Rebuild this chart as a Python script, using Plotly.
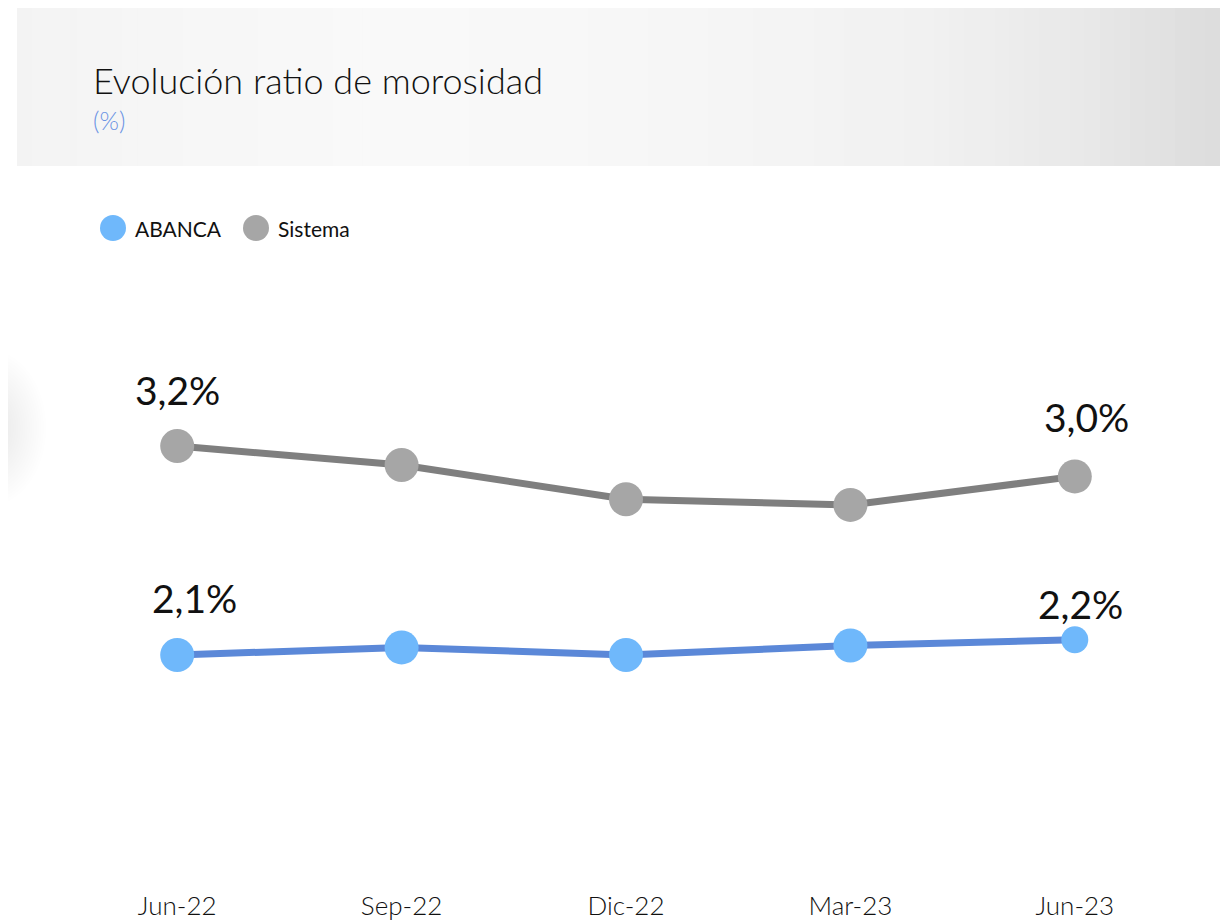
import plotly.graph_objects as go

categories = ["Jun-22", "Sep-22", "Dic-22", "Mar-23", "Jun-23"]
sistema = [3.20, 3.10, 2.92, 2.89, 3.04]
abanca = [2.10, 2.14, 2.10, 2.15, 2.18]
abanca_sizes = [34, 34, 34, 34, 27]

# page body offset (default 8px margin)
OFF = 8
SCR_W, SCR_H = 1230, 920
W_PX, H_PX = SCR_W - OFF, SCR_H - OFF
PL, PR, PT, PB = 65, 1187, 270, 888  # plot area in screen pixels
L, R, T, B = PL - OFF, SCR_W - PR, PT - OFF, SCR_H - PB
PW, PH = PR - PL, PB - PT
Y0 = 2.10 - (PB - 655) / 190.0
Y1 = 2.10 + (655 - PT) / 190.0


def px(x):
    return (x - PL) / PW


def py(y):
    return (PB - y) / PH


fig = go.Figure()
fig.add_trace(go.Scatter(
    x=categories, y=sistema, name="Sistema", mode="lines+markers",
    line=dict(color="#7f7f7f", width=7),
    marker=dict(color="#a6a6a6", size=34, opacity=1, line=dict(width=0)), showlegend=False,
))
fig.add_trace(go.Scatter(
    x=categories, y=abanca, name="ABANCA", mode="lines+markers",
    line=dict(color="#5b88d8", width=7),
    marker=dict(color="#6fb8fb", size=abanca_sizes, opacity=1, line=dict(width=0)),
    showlegend=False,
))


def fmt(v):
    return f"{v:.1f}".replace(".", ",") + "%"


label_font = dict(family="Lato, sans-serif", size=39, color="#111111")
annos = []
for series, idx, xs, ys in [
    (sistema, 0, 0, 56), (sistema, 4, 12, 59),
    (abanca, 0, 17, 57), (abanca, 4, 6, 36),
]:
    annos.append(dict(x=categories[idx], y=series[idx], xref="x", yref="y",
                      text=fmt(series[idx]), showarrow=False, font=label_font,
                      xshift=xs, yshift=ys, xanchor="center", yanchor="middle"))

shapes = []
# header gradient background
x_left, x_right, y_top, y_bot = 17, 1220, 5, 166
stops = [(0.0, 243), (0.1, 246), (0.3, 249), (0.45, 248), (0.6, 245),
         (0.75, 241), (0.88, 233), (1.0, 220)]
n = 80
for i in range(n):
    t = (i + 0.5) / n
    for j in range(len(stops) - 1):
        if stops[j][0] <= t <= stops[j + 1][0]:
            a, ca = stops[j]
            b, cb = stops[j + 1]
            c = int(round(ca + (cb - ca) * (t - a) / (b - a)))
            break
    xa = x_left + (x_right - x_left) * i / n
    xb = x_left + (x_right - x_left) * (i + 1) / n + 1
    shapes.append(dict(type="rect", xref="paper", yref="paper",
                       x0=px(xa), x1=px(min(xb, x_right)), y0=py(y_bot), y1=py(y_top),
                       fillcolor=f"rgb({c},{c},{c})", line=dict(width=0), layer="below"))

# soft shadow blob at left
for k in range(24):
    r = 58 - k * 2.3
    cx, cy = -12, 428
    shapes.append(dict(type="circle", xref="paper", yref="paper",
                       x0=px(cx - r), x1=px(cx + r), y0=py(cy + r * 1.35), y1=py(cy - r * 1.35),
                       fillcolor="rgba(120,120,120,0.009)", line=dict(width=0), layer="below"))

# legend markers
for cx, col in [(113, "#6fb8fb"), (256, "#a6a6a6")]:
    r = 13
    shapes.append(dict(type="circle", xref="paper", yref="paper",
                       x0=px(cx - r), x1=px(cx + r), y0=py(228 + r), y1=py(228 - r),
                       fillcolor=col, line=dict(width=0)))

legend_font = dict(family="Lato, sans-serif", size=21, color="#111111")
annos.append(dict(x=px(133), y=py(228), xref="paper", yref="paper", text="ABANCA",
                  showarrow=False, xanchor="left", yanchor="middle", font=legend_font))
annos.append(dict(x=px(276), y=py(228), xref="paper", yref="paper", text="Sistema",
                  showarrow=False, xanchor="left", yanchor="middle", font=legend_font))
annos.append(dict(x=px(91), y=py(80), xref="paper", yref="paper",
                  text="Evolución ratio de morosidad", showarrow=False,
                  xanchor="left", yanchor="middle",
                  font=dict(family="Lato, sans-serif", size=36, color="#111111", weight=300)))
annos.append(dict(x=px(91), y=py(120), xref="paper", yref="paper", text="(%)",
                  showarrow=False, xanchor="left", yanchor="middle",
                  font=dict(family="Lato, sans-serif", size=25, color="#6a93e4", weight=300)))

fig.update_layout(
    width=W_PX, height=H_PX,
    margin=dict(l=L, r=R, t=T, b=B),
    paper_bgcolor="white", plot_bgcolor="rgba(0,0,0,0)",
    shapes=shapes, annotations=annos, showlegend=False,
    xaxis=dict(type="category", range=[-0.5, 4.5], showgrid=False, zeroline=False,
               showline=False, ticks="", automargin=False,
               tickfont=dict(family="Lato, sans-serif", size=26, color="#111111", weight=300)),
    yaxis=dict(range=[Y0, Y1], visible=False, automargin=False),
)

fig.write_html("out.html")
